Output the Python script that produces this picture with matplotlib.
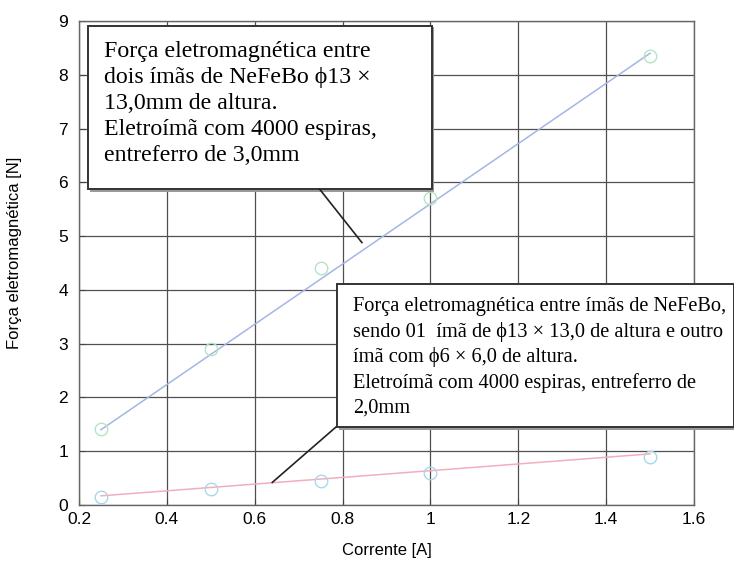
import matplotlib.pyplot as plt
from matplotlib.patches import Rectangle

# measured points
corrente = [0.25, 0.5, 0.75, 1.0, 1.5]
forca_13x13 = [1.42, 2.9, 4.4, 5.7, 8.35]
forca_13x6 = [0.15, 0.3, 0.45, 0.6, 0.9]

# trend lines as drawn in the original
ajuste_x = [0.25, 1.5]
ajuste_13x13 = [1.4, 8.4]
ajuste_13x6 = [0.17, 0.95]

xticks = [0.2, 0.4, 0.6, 0.8, 1.0, 1.2, 1.4, 1.6]
xticklabels = ["0.2", "0.4", "0.6", "0.8", "1", "1.2", "1.4", "1.6"]
yticks = list(range(10))

texto1 = ("Força eletromagnética entre\n"
          "dois ímãs de NeFeBo ϕ13 ×\n"
          "13,0mm de altura.\n"
          "Eletroímã com 4000 espiras,\n"
          "entreferro de 3,0mm")
texto2 = ("Força eletromagnética entre ímãs de NeFeBo,\n"
          "sendo 01  ímã de ϕ13 × 13,0 de altura e outro\n"
          "ímã com ϕ6 × 6,0 de altura.\n"
          "Eletroímã com 4000 espiras, entreferro de\n"
          "2,0mm")

plt.rcParams["font.family"] = ["Liberation Sans", "DejaVu Sans"]
serif = ["Liberation Serif", "DejaVu Serif"]

fig = plt.figure(figsize=(7.34, 5.71), dpi=100)
ax = fig.add_axes([79/734, 1-505/571, 615/734, 484/571])

ax.plot(ajuste_x, ajuste_13x13, color="#a4b6e4", lw=1.1, zorder=3)
ax.plot(ajuste_x, ajuste_13x6, color="#f2aebc", lw=1.1, zorder=3)
ax.plot(corrente, forca_13x13, "o", mfc="none", mec="#b4e4c4", ms=9, mew=1.0, zorder=4)
ax.plot(corrente, forca_13x6, "o", mfc="none", mec="#a8d8ea", ms=9, mew=1.0, zorder=4)

ax.set_xlim(0.2, 1.6)
ax.set_ylim(0, 9)
ax.set_xticks(xticks)
ax.set_xticklabels(xticklabels)
ax.set_yticks(yticks)
ax.grid(True, color="#505050", lw=0.9)
ax.set_axisbelow(True)
ax.tick_params(direction="in", labelsize=12.5, length=4, colors="#444", labelcolor="black")
ax.tick_params(axis="x", pad=5)
ax.tick_params(axis="y", pad=8)
for s in ax.spines.values():
    s.set_color("#666")
    s.set_linewidth(1.0)

ax.set_xlabel("Corrente [A]", fontsize=12)
ax.set_ylabel("Força eletromagnética [N]", fontsize=12)
ax.xaxis.set_label_coords(0.5, -0.079)
ax.yaxis.set_label_coords(-0.093, 0.52)

# annotation box 1
ax.add_patch(Rectangle((0.226, 5.82), 0.783, 3.06, facecolor="#9a9a9a", edgecolor="none",
                       clip_on=False, zorder=5))
ax.add_patch(Rectangle((0.22, 5.87), 0.783, 3.03, facecolor="white", edgecolor="#333",
                       lw=1.4, clip_on=False, zorder=6))
ax.text(0.258, 8.63, texto1, family=serif, fontsize=17.2, va="top", ha="left",
        linespacing=1.32, zorder=7)
ax.plot([0.748, 0.844], [5.87, 4.88], color="#222", lw=1.2, zorder=7, clip_on=False)

# annotation box 2
ax.add_patch(Rectangle((0.793, 1.40), 0.905, 2.70, facecolor="#9a9a9a", edgecolor="none",
                       clip_on=False, zorder=5))
ax.add_patch(Rectangle((0.787, 1.45), 0.905, 2.66, facecolor="white", edgecolor="#333",
                       lw=1.4, clip_on=False, zorder=6))
ax.text(0.823, 3.87, texto2, family=serif, fontsize=14.7, va="top", ha="left",
        linespacing=1.38, zorder=7)
ax.plot([0.785, 0.64], [1.45, 0.42], color="#222", lw=1.2, zorder=7, clip_on=False)

fig.savefig("out.png", dpi=100)
